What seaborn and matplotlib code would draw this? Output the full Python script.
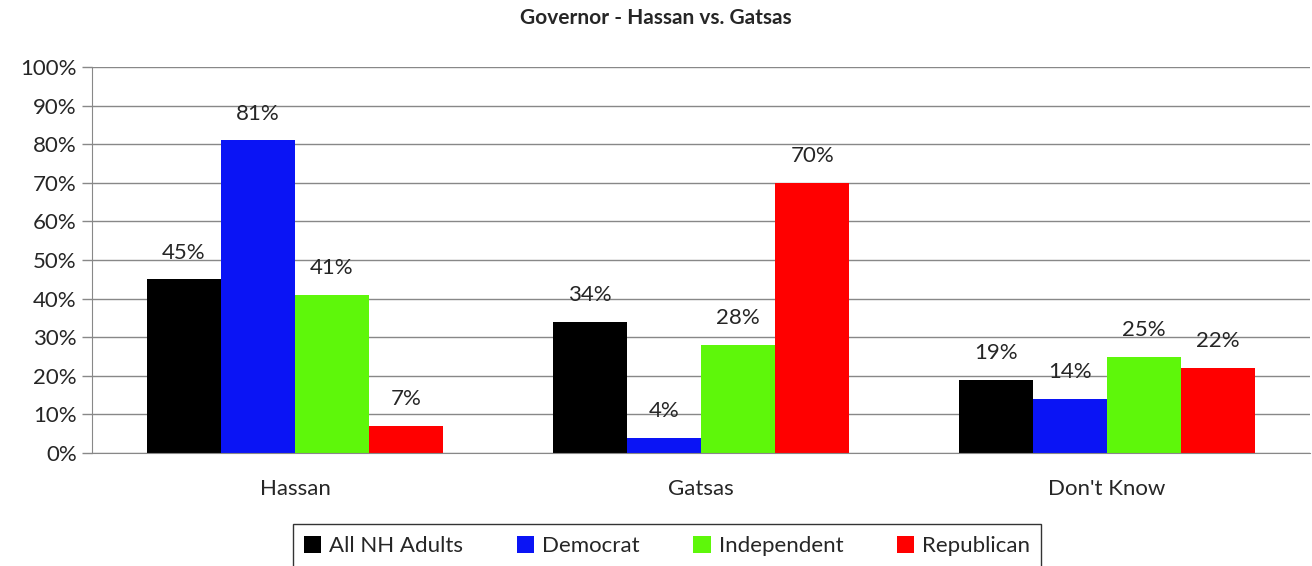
import pandas as pd
import matplotlib.pyplot as plt
import seaborn as sns

categories = ["Hassan", "Gatsas", "Don't Know"]
groups = ["All NH Adults", "Democrat", "Independent", "Republican"]
all_adults = [45, 34, 19]
democrat = [81, 4, 14]
independent = [41, 28, 25]
republican = [7, 70, 22]
colors = ["#000000", "#0A14F5", "#5EF70A", "#FF0000"]

rows = []
for g, vals in zip(groups, [all_adults, democrat, independent, republican]):
    for c, v in zip(categories, vals):
        rows.append({"Answer": c, "Group": g, "Pct": v})
df = pd.DataFrame(rows)

sns.set_style("white")
plt.rcParams['font.family'] = ['Lato', 'DejaVu Sans']

fig = plt.figure(figsize=(13.12, 5.66), dpi=100)
ax = fig.add_axes([0.0701, 0.1996, 0.9285, 0.682])

sns.barplot(data=df, x="Answer", y="Pct", hue="Group", palette=colors,
            width=0.73, saturation=1, linewidth=0, ax=ax, legend=True)

for cont in ax.containers:
    ax.bar_label(cont, labels=[f"{int(v)}%" for v in cont.datavalues],
                 padding=12, fontsize=16)

ax.set_ylim(0, 100)
ax.set_xlim(-0.5, 2.5)
ax.set_yticks(range(0, 101, 10))
ax.set_yticklabels([f"{t}%" for t in range(0, 101, 10)], fontsize=16)
ax.set_xticks([0, 1, 2])
ax.set_xticklabels(categories, fontsize=16)
ax.set_xticks([-0.5, 0.5, 1.5, 2.5], minor=True)
ax.tick_params(axis="x", which="major", length=0, pad=19)
ax.tick_params(axis="x", which="minor", length=7, color="#888888", width=1)
ax.tick_params(axis="y", length=7, color="#888888", width=1, left=True, pad=4)
ax.grid(axis="y", color="#888888", linewidth=1)
ax.set_axisbelow(True)
for s in ["top", "right"]:
    ax.spines[s].set_visible(False)
for s in ["left", "bottom"]:
    ax.spines[s].set_color("#888888")
ax.set_xlabel("")
ax.set_ylabel("")

fig.suptitle("Governor - Hassan vs. Gatsas", fontsize=15, fontweight="bold", y=0.985)

ax.legend(loc="center", bbox_to_anchor=(0.472, -0.24), ncol=4, frameon=True,
          fontsize=16, handlelength=0.8, handleheight=0.8, handletextpad=0.35,
          columnspacing=2.4, fancybox=False, edgecolor="black", borderpad=0.5,
          borderaxespad=0, handler_map=None)

fig.savefig("out.png", dpi=100)
